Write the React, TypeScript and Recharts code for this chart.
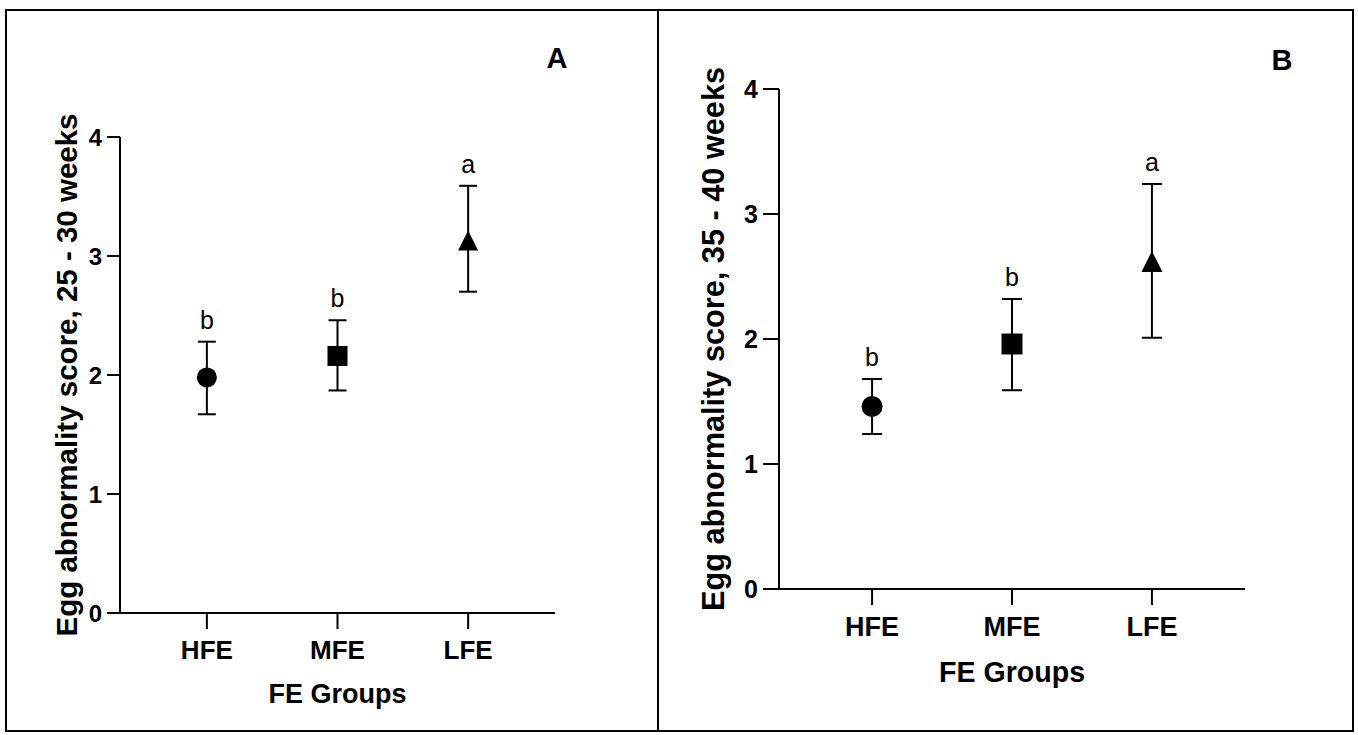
import React from 'react';
import { ComposedChart, Scatter, XAxis, YAxis, ErrorBar } from 'recharts';

const groups = ['HFE', 'MFE', 'LFE'];
const groupPositions = [1, 2, 3];
const yTicks = [0, 1, 2, 3, 4];
const xDomain: [number, number] = [0.335, 3.665];
const yDomain: [number, number] = [0, 4];

const meanA = [1.98, 2.16, 3.13];
const upperA = [2.28, 2.46, 3.59];
const lowerA = [1.67, 1.87, 2.7];
const lettersA = ['b', 'b', 'a'];

const meanB = [1.46, 1.96, 2.62];
const upperB = [1.68, 2.32, 3.24];
const lowerB = [1.24, 1.59, 2.01];
const lettersB = ['b', 'b', 'a'];

const shapes = ['circle', 'square', 'triangle'];
const titleA = 'Egg abnormality score, 25 - 30 weeks';
const titleB = 'Egg abnormality score, 35 - 40 weeks';
const xTitle = 'FE Groups';
const panelLabels = ['A', 'B'];

const FONT = '"Liberation Sans", Arial, Helvetica, sans-serif';

function buildRows(mean: number[], upper: number[], lower: number[], letters: string[]) {
  return groups.map((g, i) => ({
    pos: groupPositions[i],
    group: g,
    mean: mean[i],
    upper: upper[i],
    err: [mean[i] - lower[i], upper[i] - mean[i]],
    letter: letters[i],
    shape: shapes[i],
  }));
}

const rowsA = buildRows(meanA, upperA, lowerA, lettersA);
const rowsB = buildRows(meanB, upperB, lowerB, lettersB);

const makeMarker = (s: number) => (props: any) => {
  const { cx, cy, payload } = props;
  const h = s / 2;
  if (payload.shape === 'circle') return <circle cx={cx} cy={cy} r={h} fill="#000" />;
  if (payload.shape === 'square') return <rect x={cx - h} y={cy - h} width={s} height={s} fill="#000" />;
  return <path d={`M${cx},${cy - h}L${cx + h},${cy + h}L${cx - h},${cy + h}Z`} fill="#000" />;
};

const makeLetter = (fontSize: number, gap: number) => (props: any) => (
  <text
    x={props.cx}
    y={props.cy - gap}
    textAnchor="middle"
    fontSize={fontSize}
    fontFamily={FONT}
    fill="#000"
  >
    {props.payload.letter}
  </text>
);

const makeYTick = (fontSize: number, gap: number) => (props: any) => (
  <text
    x={props.x - gap}
    y={props.y}
    dy="0.355em"
    textAnchor="end"
    fontSize={fontSize}
    fontWeight={700}
    fontFamily={FONT}
    fill="#000"
  >
    {props.payload.value}
  </text>
);

const makeXTick = (fontSize: number, gap: number) => (props: any) => (
  <text
    x={props.x}
    y={props.y + gap}
    dy="0.716em"
    textAnchor="middle"
    fontSize={fontSize}
    fontWeight={700}
    fontFamily={FONT}
    fill="#000"
  >
    {groups[groupPositions.indexOf(props.payload.value)] ?? ''}
  </text>
);

interface PanelProps {
  rows: any[];
  width: number;
  height: number;
  margin: { top: number; right: number; bottom: number; left: number };
  yTitle: string;
  yTickFont: number;
  xTickFont: number;
  yTitleFont: number;
  xTitleFont: number;
  letterFont: number;
  markerSize: number;
  capHalf: number;
  yTickSize: number;
  xTickSize: number;
  xTickMargin: number;
  yTitleDx: number;
  xTitleDy: number;
}

function Panel(p: PanelProps) {
  const yLabel = (props: any) => {
    const vb = props.viewBox;
    const x = vb.x + p.yTitleDx;
    const y = vb.y + vb.height / 2;
    return (
      <text
        x={x}
        y={y}
        transform={`rotate(-90, ${x}, ${y})`}
        textAnchor="middle"
        fontSize={p.yTitleFont}
        fontWeight={700}
        fontFamily={FONT}
        fill="#000"
      >
        {p.yTitle}
      </text>
    );
  };
  const xLabel = (props: any) => {
    const vb = props.viewBox;
    return (
      <text
        x={vb.x + vb.width / 2}
        y={vb.y + p.xTitleDy}
        textAnchor="middle"
        fontSize={p.xTitleFont}
        fontWeight={700}
        fontFamily={FONT}
        fill="#000"
      >
        {xTitle}
      </text>
    );
  };
  return (
    <ComposedChart width={p.width} height={p.height} margin={p.margin} data={p.rows}>
      <XAxis
        dataKey="pos"
        type="number"
        domain={xDomain}
        ticks={groupPositions}
        interval={0}
        height={60}
        axisLine={{ stroke: '#000', strokeWidth: 2 }}
        tickLine={{ stroke: '#000', strokeWidth: 2 }}
        tickSize={p.xTickSize}
        tickMargin={0}
        tick={makeXTick(p.xTickFont, p.xTickMargin)}
        label={{ content: xLabel }}
      />
      <YAxis
        type="number"
        domain={yDomain}
        ticks={yTicks}
        interval={0}
        width={60}
        axisLine={{ stroke: '#000', strokeWidth: 2 }}
        tickLine={{ stroke: '#000', strokeWidth: 2 }}
        tickSize={p.yTickSize}
        tickMargin={0}
        tick={makeYTick(p.yTickFont, 5)}
        label={{ content: yLabel }}
      />
      <Scatter dataKey="mean" isAnimationActive={false} shape={makeMarker(p.markerSize)}>
        <ErrorBar dataKey="err" direction="y" width={p.capHalf} stroke="#000" strokeWidth={2} isAnimationActive={false} />
      </Scatter>
      <Scatter dataKey="upper" isAnimationActive={false} shape={makeLetter(p.letterFont, 13)} />
    </ComposedChart>
  );
}

export default function App() {
  return (
    <div style={{ position: 'absolute', left: 0, top: 0, width: 1358, height: 735, background: '#fff' }}>
      <div style={{ position: 'absolute', left: 0, top: 0 }}>
        <Panel
          rows={rowsA}
          width={658}
          height={735}
          margin={{ top: 137, right: 103, bottom: 62, left: 60 }}
          yTitle={titleA}
          yTickFont={24}
          xTickFont={26}
          yTitleFont={29.5}
          xTitleFont={27}
          letterFont={25}
          markerSize={20}
          capHalf={9}
          yTickSize={13}
          xTickSize={16}
          xTickMargin={11}
          yTitleDx={17}
          xTitleDy={90}
        />
      </div>
      <div style={{ position: 'absolute', left: 658, top: 0 }}>
        <Panel
          rows={rowsB}
          width={700}
          height={735}
          margin={{ top: 89, right: 113, bottom: 86, left: 61 }}
          yTitle={titleB}
          yTickFont={25}
          xTickFont={27}
          yTitleFont={30.7}
          xTitleFont={28.6}
          letterFont={25}
          markerSize={21}
          capHalf={10}
          yTickSize={16}
          xTickSize={16}
          xTickMargin={12}
          yTitleDx={5}
          xTitleDy={93}
        />
      </div>
      <svg
        width={1358}
        height={735}
        style={{ position: 'absolute', left: 0, top: 0, pointerEvents: 'none' }}
      >
        <rect x={6} y={10} width={1347} height={721} fill="none" stroke="#000" strokeWidth={2} />
        <line x1={658} y1={10} x2={658} y2={731} stroke="#000" strokeWidth={2} />
        <text x={557} y={68} textAnchor="middle" fontSize={29} fontWeight={700} fontFamily={FONT} fill="#000">
          {panelLabels[0]}
        </text>
        <text x={1282} y={70} textAnchor="middle" fontSize={29} fontWeight={700} fontFamily={FONT} fill="#000">
          {panelLabels[1]}
        </text>
      </svg>
    </div>
  );
}
